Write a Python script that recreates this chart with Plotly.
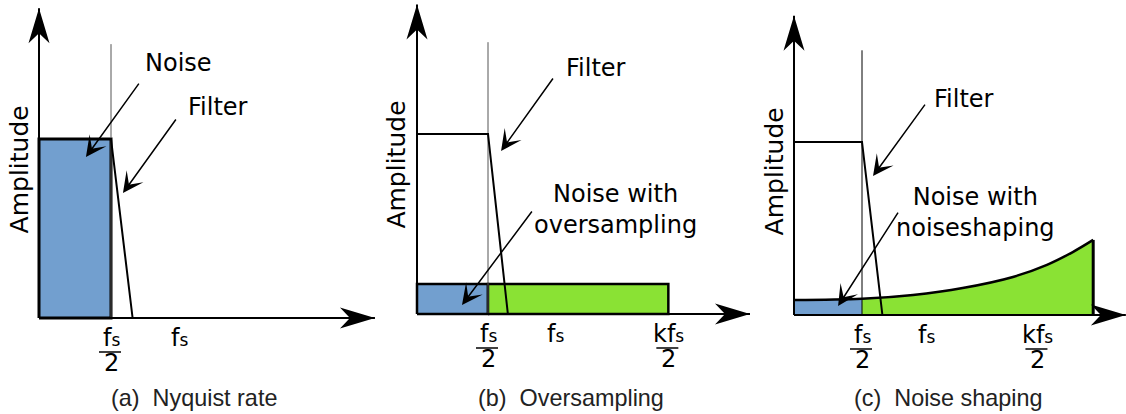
import plotly.graph_objects as go

W, H = 1126, 414

# ---------------- data ----------------
# x in units of f_s, y in units of the filter pass-band amplitude
CAPTIONS = ["(a)\u00a0\u00a0Nyquist rate", "(b)\u00a0\u00a0Oversampling", "(c)\u00a0\u00a0Noise shaping"]
Y_LABEL = "Amplitude"

# anti-alias low-pass filter: pass band to f_s/2, then a steep roll-off
FILTER_X = [[0.0, 0.5, 0.65], [0.0, 0.5, 0.64], [0.0, 0.5, 0.65]]
FILTER_Y = [1.0, 1.0, 0.0]
CUTOFF = 0.5                      # f_s / 2
CUTOFF_TOP = [1.53, 1.51, 1.53]

# (a) quantisation noise at the Nyquist rate
NOISE_A_EDGES = [0.0, 0.5]
NOISE_A_LEVEL = 1.0

# (b) quantisation noise with oversampling (in band / out of band)
NOISE_B_EDGES = [0.0, 0.5, 1.77]
NOISE_B_LEVEL = 0.167

# (c) shaped noise spectrum
NOISE_C_X = [0.0, 0.5, 0.875, 1.24, 1.61, 1.86, 2.05, 2.2]
NOISE_C_Y = [0.087, 0.094, 0.116, 0.156, 0.22, 0.29, 0.364, 0.434]

# axis extents
X_AXIS_END = [2.333, 2.345, 2.44]
Y_AXIS_END = [1.73, 1.72, 1.73]

# frequency tick labels (numerator / denominator)
SUB_S = "<span style='font-size:17px'>s</span>"
TICK_X = [[0.5, 1.0], [0.5, 1.0, 1.77], [0.5, 1.0, 1.79]]
TICK_NUM = [["f" + SUB_S, "f" + SUB_S],
            ["f" + SUB_S, "f" + SUB_S, "kf" + SUB_S],
            ["f" + SUB_S, "f" + SUB_S, "kf" + SUB_S]]
TICK_DEN = [["2", ""], ["2", "", "2"], ["2", "", "2"]]

# callouts
FILTER_TXT = "Filter"
NOISE_TXT = ["Noise", "Noise with<br>oversampling", "Noise with<br>noiseshaping"]

# ---------------- layout geometry (pixels) ----------------
PANELS = [
    dict(left=0, right=375, ox=39, oy=318, sx=144, sy=179),
    dict(left=375, right=750, ox=417, oy=314, sx=142, sy=180),
    dict(left=750, right=1126, ox=794, oy=315, sx=136, sy=173),
]

BLUE = "#729fcf"
GREEN = "#8ae234"
FONT = "DejaVu Sans"

fig = go.Figure()
layout = dict(width=W, height=H, margin=dict(l=0, r=0, t=0, b=0),
              paper_bgcolor="white", plot_bgcolor="white", showlegend=False)
shapes, annos = [], []

for i, p in enumerate(PANELS):
    sfx = "" if i == 0 else str(i + 1)
    xa, ya = "x" + sfx, "y" + sfx
    layout["xaxis" + sfx] = dict(domain=[p["left"] / W, p["right"] / W],
                                 range=[(p["left"] - p["ox"]) / p["sx"], (p["right"] - p["ox"]) / p["sx"]],
                                 visible=False, anchor=ya, fixedrange=True)
    layout["yaxis" + sfx] = dict(domain=[0, 1],
                                 range=[(p["oy"] - H) / p["sy"], p["oy"] / p["sy"]],
                                 visible=False, anchor=xa, fixedrange=True)

    def add(**kw):
        fig.add_trace(go.Scatter(xaxis=xa, yaxis=ya, hoverinfo="skip", **kw))

    # ---- noise ----
    if i == 0:
        x0, x1 = NOISE_A_EDGES
        add(x=[x0, x0, x1, x1, x0], y=[0, NOISE_A_LEVEL, NOISE_A_LEVEL, 0, 0],
            mode="lines", fill="toself", fillcolor=BLUE,
            line=dict(color="black", width=3))
    elif i == 1:
        cols = [BLUE, GREEN]
        for k in range(2):
            x0, x1 = NOISE_B_EDGES[k], NOISE_B_EDGES[k + 1]
            add(x=[x0, x0, x1, x1, x0], y=[0, NOISE_B_LEVEL, NOISE_B_LEVEL, 0, 0],
                mode="lines", fill="toself", fillcolor=cols[k],
                line=dict(color="black", width=2.5))
    else:
        split = NOISE_C_X.index(CUTOFF)
        add(x=NOISE_C_X[:split + 1], y=NOISE_C_Y[:split + 1], mode="lines",
            fill="tozeroy", fillcolor=BLUE, line=dict(width=0, shape="spline"))
        add(x=NOISE_C_X[split:], y=NOISE_C_Y[split:], mode="lines",
            fill="tozeroy", fillcolor=GREEN, line=dict(width=0, shape="spline"))
        add(x=NOISE_C_X, y=NOISE_C_Y, mode="lines",
            line=dict(color="black", width=2.5, shape="spline"))
        add(x=[NOISE_C_X[-1], NOISE_C_X[-1]], y=[0, NOISE_C_Y[-1]], mode="lines",
            line=dict(color="black", width=3))

    # ---- cut-off marker line ----
    add(x=[CUTOFF, CUTOFF], y=[0, CUTOFF_TOP[i]], mode="lines",
        line=dict(color="#555555" if i < 2 else "black", width=1))
    # ---- filter ----
    add(x=FILTER_X[i], y=FILTER_Y, mode="lines", line=dict(color="black", width=2))
    # ---- axes ----
    add(x=[0, X_AXIS_END[i]], y=[0, 0], mode="lines", line=dict(color="black", width=2))
    add(x=[0, 0], y=[0, Y_AXIS_END[i]], mode="lines", line=dict(color="black", width=2))

    # arrow heads (pixel-sized glyphs anchored at the axis ends)
    shapes.append(dict(type="path", xref=xa, yref=ya, xsizemode="pixel", ysizemode="pixel",
                       xanchor=X_AXIS_END[i], yanchor=0,
                       path="M0,0 L-35,10.5 L-25,0 L-35,-10.5 Z",
                       fillcolor="black", line=dict(width=0)))
    shapes.append(dict(type="path", xref=xa, yref=ya, xsizemode="pixel", ysizemode="pixel",
                       xanchor=0, yanchor=Y_AXIS_END[i],
                       path="M0,0 L-10.5,-35 L0,-25 L10.5,-35 Z",
                       fillcolor="black", line=dict(width=0)))

    # ---- tick labels ----
    for tx, num, den in zip(TICK_X[i], TICK_NUM[i], TICK_DEN[i]):
        annos.append(dict(x=tx, y=0, xref=xa, yref=ya, text=num, showarrow=False,
                          xanchor="center", yanchor="middle", yshift=-20,
                          xshift=(0 if den else -4),
                          font=dict(family=FONT, size=24, color="black")))
        if den:
            annos.append(dict(x=tx, y=0, xref=xa, yref=ya, text=den, showarrow=False,
                              xanchor="center", yanchor="middle", yshift=-45,
                              font=dict(family=FONT, size=24, color="black")))
            shapes.append(dict(type="line", xref=xa, yref=ya, xsizemode="pixel",
                               ysizemode="pixel", xanchor=tx, yanchor=0,
                               x0=-12, x1=10, y0=-34, y1=-34,
                               line=dict(color="black", width=1.5)))

    # ---- y label ----
    annos.append(dict(x=-20 / p["sx"], y=0.83, xref=xa, yref=ya, text=Y_LABEL,
                      textangle=-90, showarrow=False, xanchor="center",
                      font=dict(family=FONT, size=25, color="black")))
    # ---- caption ----
    annos.append(dict(x=(p["left"] + p["right"]) / 2 / W, y=0, xref="paper", yref="paper",
                      text=CAPTIONS[i], showarrow=False, xanchor="center",
                      yanchor="middle", yshift=16, xshift=[6, 8, 10][i],
                      font=dict(family="Liberation Sans", size=23.4, color="#222222")))

# ---- callout texts & arrows (data coords per panel) ----
callouts = [
    # panel, text, text(x,y), arrow tail(x,y), arrow tip(x,y)
    (0, NOISE_TXT[0], (0.972, 1.425), (0.701, 1.318), (0.326, 0.899)),
    (0, FILTER_TXT, (1.243, 1.179), (0.958, 1.117), (0.583, 0.698)),
    (1, FILTER_TXT, (1.261, 1.367), (0.965, 1.317), (0.592, 0.906)),
    (1, NOISE_TXT[1], (1.401, 0.578), (0.817, 0.578), (0.317, 0.05)),
    (2, FILTER_TXT, (1.25, 1.249), (0.971, 1.225), (0.581, 0.803)),
    (2, NOISE_TXT[2], (1.338, 0.595), (0.772, 0.601), (0.324, 0.052)),
]
for pi, txt, (tx, ty), (ax_, ay_), (hx, hy) in callouts:
    sfx = "" if pi == 0 else str(pi + 1)
    xa, ya = "x" + sfx, "y" + sfx
    annos.append(dict(x=tx, y=ty, xref=xa, yref=ya, text=txt, showarrow=False,
                      xanchor="center",
                      font=dict(family=FONT, size=24, color="black")))
    annos.append(dict(x=hx, y=hy, ax=ax_, ay=ay_, xref=xa, yref=ya, axref=xa, ayref=ya,
                      text="", showarrow=True, arrowhead=3, arrowsize=2.3,
                      arrowwidth=1.5, arrowcolor="black", standoff=0, startstandoff=0))

layout["shapes"] = shapes
layout["annotations"] = annos
fig.update_layout(**layout)
fig.write_html("out.html", config={"staticPlot": True},
               post_script="document.body.style.margin='0px';")
